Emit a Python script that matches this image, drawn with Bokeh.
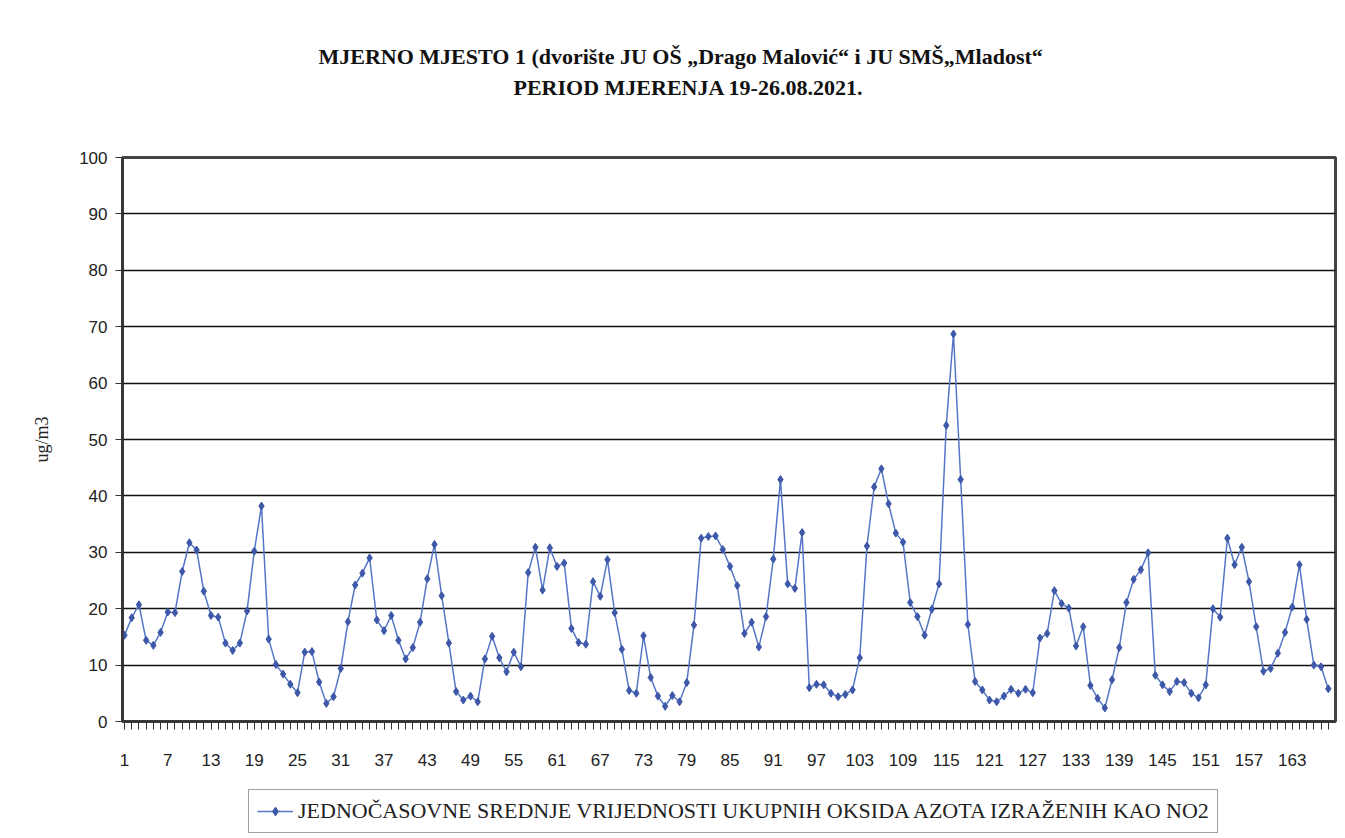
from bokeh.plotting import figure
from bokeh.layouts import column
from bokeh.models import Range1d, FixedTicker, Legend, LegendItem, Title
from bokeh.embed import file_html
from bokeh.resources import INLINE

# ---- data ----
hours = list(range(1, 169))
no2 = [
    15.3, 18.4, 20.7, 14.4, 13.5, 15.8, 19.4, 19.3, 26.6, 31.7,
    30.4, 23.1, 18.8, 18.5, 13.9, 12.6, 13.9, 19.6, 30.2, 38.2,
    14.6, 10.1, 8.4, 6.6, 5.1, 12.3, 12.4, 7.0, 3.2, 4.4,
    9.4, 17.7, 24.2, 26.3, 29.0, 18.0, 16.1, 18.8, 14.4, 11.1,
    13.1, 17.6, 25.3, 31.4, 22.3, 13.9, 5.3, 3.8, 4.5, 3.5,
    11.1, 15.1, 11.3, 8.8, 12.3, 9.7, 26.4, 30.9, 23.3, 30.8,
    27.5, 28.1, 16.5, 14.0, 13.7, 24.8, 22.2, 28.7, 19.3, 12.8,
    5.5, 5.0, 15.2, 7.8, 4.5, 2.7, 4.6, 3.5, 6.9, 17.1,
    32.5, 32.8, 32.9, 30.5, 27.5, 24.1, 15.6, 17.6, 13.2, 18.6,
    28.8, 42.9, 24.4, 23.6, 33.5, 6.0, 6.6, 6.5, 5.0, 4.4,
    4.8, 5.6, 11.3, 31.1, 41.6, 44.8, 38.6, 33.4, 31.8, 21.1,
    18.6, 15.3, 19.9, 24.4, 52.5, 68.7, 42.9, 17.2, 7.1, 5.6,
    3.8, 3.5, 4.5, 5.7, 5.0, 5.7, 5.1, 14.8, 15.6, 23.2,
    20.9, 20.1, 13.4, 16.8, 6.4, 4.1, 2.4, 7.4, 13.1, 21.1,
    25.2, 26.9, 29.9, 8.2, 6.5, 5.3, 7.1, 6.9, 5.0, 4.2,
    6.5, 20.0, 18.5, 32.5, 27.8, 30.9, 24.8, 16.8, 8.9, 9.4,
    12.1, 15.8, 20.3, 27.8, 18.1, 10.0, 9.7, 5.8,
]
x_tick_values = list(range(1, 169, 6))
x_tick_labels = [str(v) for v in x_tick_values]
y_tick_values = list(range(0, 101, 10))

title_line1 = "MJERNO MJESTO 1 (dvorište JU OŠ  „Drago Malović“ i  JU SMŠ„Mladost“"
title_line2 = "PERIOD MJERENJA 19-26.08.2021."
y_label = "ug/m3"
series_name = "JEDNOČASOVNE SREDNJE VRIJEDNOSTI UKUPNIH OKSIDA AZOTA IZRAŽENIH KAO NO2"

LINE_COLOR = "#5576c6"
MARK_COLOR = "#3d58a8"

# ---- main figure ----
p = figure(width=1340, height=780, output_backend="svg", toolbar_location=None,
           x_range=Range1d(0.72, 169.0), y_range=Range1d(0, 100),
           min_border_left=122, min_border_right=5, min_border_top=157,
           min_border_bottom=59)

p.background_fill_color = "white"
p.border_fill_color = "white"
p.outline_line_color = "#444444"
p.outline_line_width = 3

# x axis
p.xaxis.ticker = FixedTicker(ticks=x_tick_values, minor_ticks=hours)
p.xaxis.major_label_overrides = {v: l for v, l in zip(x_tick_values, x_tick_labels)}
p.xaxis.major_tick_in = 0
p.xaxis.major_tick_out = 8
p.xaxis.minor_tick_in = 0
p.xaxis.minor_tick_out = 8
p.xaxis.major_tick_line_color = "#333333"
p.xaxis.minor_tick_line_color = "#333333"
p.xaxis.axis_line_color = "#333333"
p.xaxis.axis_line_width = 2
p.xaxis.major_label_standoff = 24
p.xaxis.major_label_text_font = "Liberation Sans"
p.xaxis.major_label_text_font_size = "17px"
p.xaxis.major_label_text_color = "#222222"

# y axis
p.yaxis.ticker = FixedTicker(ticks=y_tick_values)
p.yaxis.minor_tick_line_color = None
p.yaxis.major_tick_in = 0
p.yaxis.major_tick_out = 7
p.yaxis.major_tick_line_color = "#333333"
p.yaxis.axis_line_color = "#333333"
p.yaxis.axis_line_width = 2
p.yaxis.major_label_standoff = 8
p.yaxis.major_label_text_font = "Liberation Sans"
p.yaxis.major_label_text_font_size = "17px"
p.yaxis.major_label_text_color = "#222222"
p.yaxis.axis_label = y_label
p.yaxis.axis_label_text_font = "Liberation Serif"
p.yaxis.axis_label_text_font_style = "normal"
p.yaxis.axis_label_text_font_size = "18px"
p.yaxis.axis_label_text_color = "#222222"
p.yaxis.axis_label_standoff = 24

# grid
p.xgrid.visible = False
p.ygrid.ticker = FixedTicker(ticks=y_tick_values)
p.ygrid.grid_line_color = "#111111"
p.ygrid.grid_line_width = 1.3

# series
p.line(hours, no2, line_color=LINE_COLOR, line_width=1.5)
p.scatter(hours, no2, marker="diamond", size=8,
          fill_color=MARK_COLOR, line_color=MARK_COLOR)

# titles (above: nearest to frame first)
p.add_layout(Title(text=" ", text_font_size="49px", standoff=0), "above")
p.add_layout(Title(text=title_line2, align="left", offset=391, standoff=4,
                   text_font="Liberation Serif", text_font_style="bold",
                   text_font_size="22px", text_color="#111111"), "above")
p.add_layout(Title(text=title_line1, align="left", offset=196, standoff=4,
                   text_font="Liberation Serif", text_font_style="bold",
                   text_font_size="22px", text_color="#111111"), "above")

# ---- legend strip ----
q = figure(width=1340, height=56, output_backend="svg", toolbar_location=None,
           x_range=Range1d(0, 1), y_range=Range1d(0, 1),
           x_axis_type=None, y_axis_type=None,
           min_border_left=0, min_border_right=0, min_border_top=0,
           min_border_bottom=0)
q.outline_line_color = None
q.xgrid.visible = False
q.ygrid.visible = False
q.border_fill_color = "white"
q.background_fill_color = "white"
# legend-sample renderers, kept outside the visible range of the strip
lg_line = q.line([-5, -4], [-5, -5], line_color=LINE_COLOR, line_width=1.5)
lg_mark = q.scatter([-5, -4], [-5, -5], marker="diamond", size=8,
                    fill_color=MARK_COLOR, line_color=MARK_COLOR)
legend = Legend(items=[LegendItem(label=series_name, renderers=[lg_line, lg_mark])],
                location=(126, 3),
                label_text_font="Liberation Serif", label_text_font_size="22px",
                label_text_color="#222222",
                border_line_color="#444444", border_line_width=1.5,
                glyph_width=36, glyph_height=22, label_height=22,
                padding=8, label_standoff=5, spacing=0, margin=0,
                background_fill_color="white", background_fill_alpha=1)
q.add_layout(legend)

layout = column(p, q, spacing=0)
open("out.html", "w").write(file_html(layout, INLINE))
